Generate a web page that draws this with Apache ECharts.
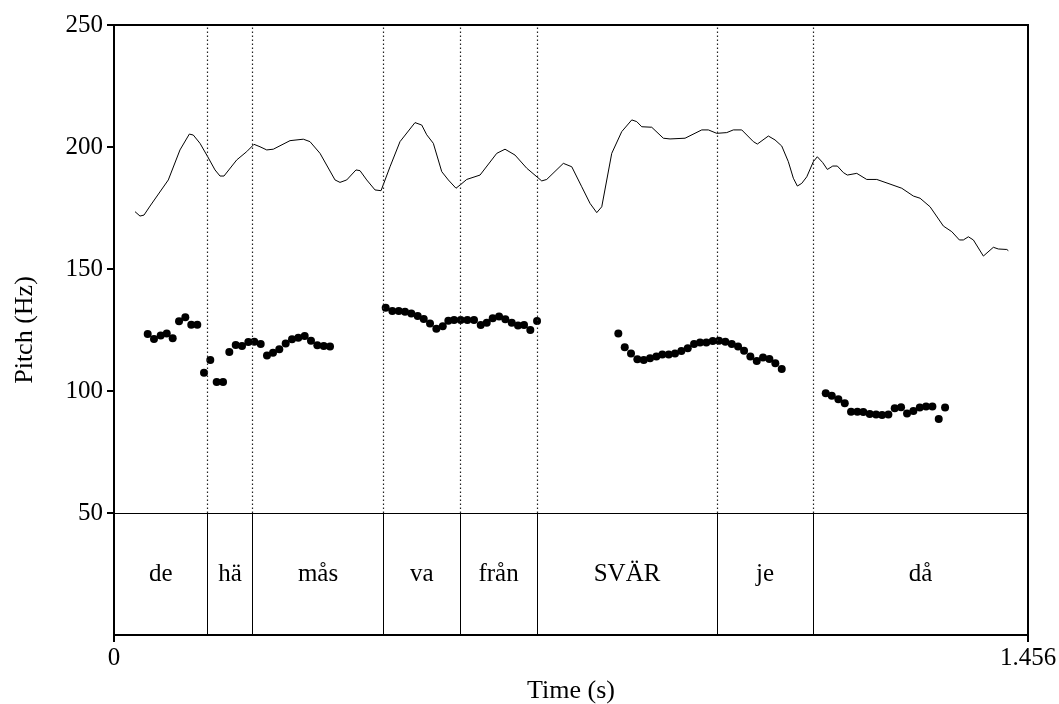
<!DOCTYPE html>
<html>
<head>
<meta charset="utf-8">
<script src="https://cdn.jsdelivr.net/npm/echarts@6/dist/echarts.min.js"></script>
<style>html,body{margin:0;padding:0;background:#fff;}#c{width:1059px;height:704px;}</style>
</head>
<body>
<div id="c"></div>
<script>
const boundaryTimes = [0.1493, 0.2203, 0.4297, 0.5512, 0.6739, 0.9606, 1.1136];
const tierLabels = ['de', 'hä', 'mås', 'va', 'från', 'SVÄR', 'je', 'då'];
const xTickValues = [0, 1.456];
const xTickLabels = ['0', '1.456'];
const yTickValues = [50, 100, 150, 200, 250];

const contourTimes = [0.0335,0.0414,0.0478,0.0574,0.0865,0.1051,0.1200,0.1263,0.1370,0.1493,0.1609,0.1689,0.1752,0.1955,0.2114,0.2230,0.2326,0.2433,0.2538,0.2804,0.3016,0.3122,0.3282,0.3521,0.3600,0.3707,0.3855,0.3919,0.4026,0.4158,0.4254,0.4397,0.4556,0.4795,0.4902,0.4982,0.5087,0.5221,0.5326,0.5448,0.5512,0.5619,0.5831,0.6097,0.6229,0.6388,0.6575,0.6814,0.6893,0.7158,0.7292,0.7451,0.7583,0.7690,0.7770,0.7929,0.8088,0.8248,0.8327,0.8407,0.8566,0.8751,0.8858,0.9097,0.9363,0.9468,0.9602,0.9761,0.9866,1.0000,1.0185,1.0248,1.0424,1.0530,1.0637,1.0742,1.0822,1.0886,1.0956,1.1036,1.1141,1.1204,1.1290,1.1364,1.1450,1.1523,1.1619,1.1682,1.1832,1.1991,1.2151,1.2362,1.2549,1.2734,1.2841,1.3000,1.3212,1.3346,1.3467,1.3530,1.3610,1.3690,1.3849,1.4008,1.4088,1.4222,1.4247];
const contourHz = [173.5,171.7,172.1,175.8,186.5,198.8,205.3,204.9,201.5,196.0,190.6,188.1,188.1,194.7,198.1,201.1,200.1,198.8,199.1,202.6,203.2,202.2,197.4,186.5,185.5,186.5,190.6,190.3,186.5,182.4,182.1,191.9,202.2,210.0,209.0,205.0,201.5,189.9,186.5,183.1,184.4,186.7,188.5,197.4,199.1,196.7,191.3,186.1,186.7,193.3,191.9,183.7,176.9,173.1,175.5,197.4,206.3,211.1,210.4,208.3,208.1,203.6,203.3,203.6,207.0,207.0,205.6,205.9,207.0,207.0,202.2,201.2,204.5,202.9,200.4,194.0,187.2,184.0,185.1,187.8,194.0,196.0,193.6,190.8,192.2,192.2,189.5,188.5,189.2,186.7,186.7,184.8,183.1,179.9,179.0,175.5,167.6,165.3,161.9,161.9,163.2,161.9,155.3,158.9,158.2,158.0,157.5];

const pitchTimes = [0.0537,0.0637,0.0744,0.0840,0.0935,0.1036,0.1136,0.1231,0.1327,0.1434,0.1534,0.1636,0.1737,0.1837,0.1939,0.2039,0.2140,0.2235,0.2337,0.2437,0.2533,0.2633,0.2735,0.2836,0.2936,0.3038,0.3138,0.3239,0.3341,0.3441,
0.4328,0.4434,0.4536,0.4636,0.4736,0.4838,0.4934,0.5034,0.5135,0.5237,0.5326,0.5417,0.5523,0.5629,0.5735,0.5842,0.5938,0.6033,0.6134,0.6234,0.6336,0.6436,0.6532,0.6632,0.6739,
0.8034,0.8136,0.8236,0.8337,0.8439,0.8539,0.8640,0.8735,0.8837,0.8937,0.9038,0.9140,0.9240,0.9336,0.9436,0.9538,0.9638,0.9739,0.9841,0.9941,1.0037,1.0137,1.0239,1.0339,1.0440,1.0535,1.0637,
1.1338,1.1434,1.1539,1.1641,1.1741,1.1842,1.1937,1.2039,1.2140,1.2235,1.2336,1.2437,1.2538,1.2633,1.2734,1.2836,1.2936,1.3037,1.3138,1.3239];
const pitchHz = [123.4,121.3,122.7,123.6,121.6,128.6,130.2,127.2,127.2,107.5,112.7,103.7,103.7,116.0,118.9,118.4,120.1,120.2,119.3,114.6,115.7,117.1,119.5,121.2,121.8,122.5,120.6,118.7,118.4,118.2,
134.1,132.8,132.8,132.5,131.8,130.7,129.5,127.7,125.5,126.5,128.8,129.1,129.1,129.1,129.1,127.0,128.0,129.8,130.5,129.4,128.0,126.8,127.0,125.0,128.7,
123.6,117.9,115.4,113.0,112.7,113.4,114.1,115.0,115.0,115.4,116.4,117.5,119.3,119.9,119.9,120.5,120.6,120.2,119.3,118.2,116.5,114.1,112.3,113.7,113.1,111.4,109.0,
99.1,98.1,96.6,95.0,91.5,91.5,91.4,90.6,90.4,90.2,90.4,92.9,93.3,90.8,91.8,93.2,93.6,93.6,88.5,93.2];

const X_MAX = 1.456;
const FONT = '"Liberation Serif", "DejaVu Serif", serif';

const edges = [0].concat(boundaryTimes, [X_MAX]);
const labelData = tierLabels.map((t, i) => ({ value: [(edges[i] + edges[i + 1]) / 2, 25], name: t }));
const dottedLines = boundaryTimes.map(b => [{ coord: [b, 50] }, { coord: [b, 250] }]);
const solidLines = boundaryTimes.map(b => [{ coord: [b, 0] }, { coord: [b, 50] }]);

const chart = echarts.init(document.getElementById('c'), null, { renderer: 'canvas' });
chart.setOption({
  animation: false,
  backgroundColor: '#fff',
  grid: { left: 114, right: 31, top: 25, bottom: 69, containLabel: false, outerBoundsMode: 'none',
    show: true, borderColor: '#000', borderWidth: 2, backgroundColor: 'transparent' },
  xAxis: {
    type: 'value', min: 0, max: X_MAX,
    name: 'Time (s)', nameLocation: 'middle', nameGap: 43,
    nameTextStyle: { fontFamily: FONT, fontSize: 26, color: '#000' },
    axisLine: { show: true, lineStyle: { color: '#000', width: 2 } },
    axisTick: { show: true, length: 7, customValues: xTickValues, lineStyle: { color: '#000', width: 2 } },
    axisLabel: { show: true, customValues: xTickValues, margin: 11, fontFamily: FONT, fontSize: 25, color: '#000',
      formatter: v => xTickLabels[xTickValues.indexOf(v)] },
    splitLine: { show: false }
  },
  yAxis: {
    type: 'value', min: 0, max: 250,
    name: 'Pitch (Hz)', nameLocation: 'middle', nameGap: 76, nameRotate: 90,
    nameTextStyle: { fontFamily: FONT, fontSize: 26, color: '#000' },
    axisLine: { show: true, lineStyle: { color: '#000', width: 2 } },
    axisTick: { show: true, length: 7, customValues: yTickValues, lineStyle: { color: '#000', width: 2 } },
    axisLabel: { show: true, customValues: yTickValues, margin: 11, fontFamily: FONT, fontSize: 25, color: '#000' },
    splitLine: { show: false }
  },
  series: [
    {
      type: 'line', data: [], silent: true,
      markLine: { silent: true, symbol: 'none', label: { show: false },
        lineStyle: { color: '#000', width: 1, type: 'solid', opacity: 1 },
        data: [{ yAxis: 50 }].concat(solidLines) }
    },
    {
      type: 'line', data: [], silent: true,
      markLine: { silent: true, symbol: 'none', label: { show: false },
        lineStyle: { color: '#222', width: 1.2, type: [1.5, 2.5], opacity: 1 },
        data: dottedLines }
    },
    {
      type: 'line', silent: true, showSymbol: false, symbol: 'none',
      lineStyle: { color: '#000', width: 1 },
      data: contourTimes.map((t, i) => [t, contourHz[i]])
    },
    {
      type: 'scatter', silent: true, symbol: 'circle', symbolSize: 8,
      itemStyle: { color: '#000', opacity: 1 },
      data: pitchTimes.map((t, i) => [t, pitchHz[i]])
    },
    {
      type: 'scatter', silent: true, symbolSize: 0,
      label: { show: true, position: 'inside', formatter: p => p.name, fontFamily: FONT, fontSize: 25,
        color: '#000', textBorderWidth: 0, opacity: 1 },
      data: labelData
    }
  ]
});
</script>
</body>
</html>
